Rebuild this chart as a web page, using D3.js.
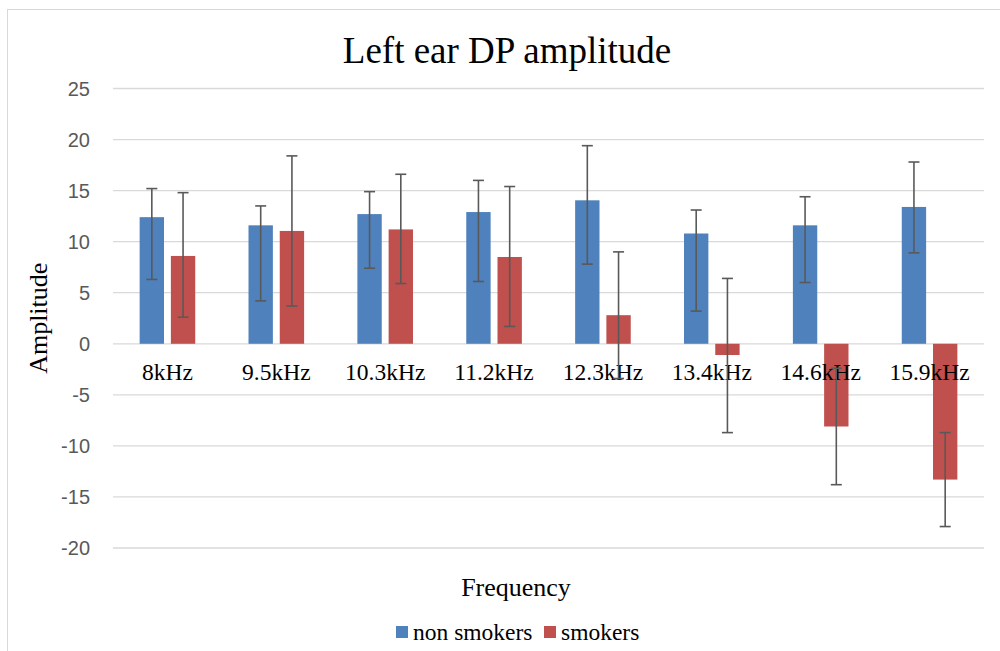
<!DOCTYPE html>
<html>
<head>
    <title>Left ear DP amplitude</title>
    <script src="https://d3js.org/d3.v7.min.js"></script>
    <style type="text/css">
        body { margin: 0; background: #fff; }
        svg text { font-family: "Liberation Serif", "Times New Roman", serif; fill: #000; }
        .ytick text { font-family: "Liberation Sans", Arial, sans-serif; fill: #595959; }
    </style>
</head>
<body>
<div id="chart"></div>
<script type="text/javascript">
    const categories = ["8kHz", "9.5kHz", "10.3kHz", "11.2kHz", "12.3kHz", "13.4kHz", "14.6kHz", "15.9kHz"];
    const seriesNames = ["non smokers", "smokers"];
    const nonSmokers     = [12.4, 11.6, 12.7, 12.9, 14.05, 10.8, 11.6, 13.4];
    const nonSmokersHigh = [15.2, 13.5, 14.9, 16.0, 19.4, 13.1, 14.4, 17.8];
    const nonSmokersLow  = [6.3, 4.2, 7.4, 6.1, 7.8, 3.2, 6.0, 8.9];
    const smokers     = [8.6, 11.05, 11.2, 8.5, 2.8, -1.1, -8.1, -13.3];
    const smokersHigh = [14.8, 18.4, 16.6, 15.4, 9.0, 6.4, -2.4, -8.7];
    const smokersLow  = [2.6, 3.7, 5.9, 1.7, -3.4, -8.7, -13.8, -17.9];
    const yTicks = [-20, -15, -10, -5, 0, 5, 10, 15, 20, 25];
    const colors = ["#4f81bd", "#c0504d"];

    const width = 1000, height = 651;
    const svg = d3.select("#chart").append("svg")
        .attr("width", width)
        .attr("height", height);

    // chart frame
    svg.append("rect")
        .attr("x", 7.5).attr("y", 9.5)
        .attr("width", 1000).attr("height", 700)
        .attr("fill", "none").attr("stroke", "#d9d9d9").attr("stroke-width", 1);

    const x = d3.scaleBand().domain(categories).range([113, 984]);
    const xSub = d3.scaleBand().domain(seriesNames).range([-27.8, 27.8]).paddingInner(0.22);
    const y = d3.scaleLinear().domain([-20, 25]).range([548, 88.5]);

    // gridlines + tick labels
    const yAxis = svg.append("g").attr("class", "ytick");
    yAxis.selectAll("line").data(yTicks).join("line")
        .attr("x1", 113).attr("x2", 984)
        .attr("y1", d => y(d)).attr("y2", d => y(d))
        .attr("stroke", "#d9d9d9").attr("stroke-width", 1.3);
    yAxis.selectAll("text").data(yTicks).join("text")
        .attr("x", 90).attr("y", d => y(d))
        .attr("text-anchor", "end").attr("dominant-baseline", "central")
        .attr("font-size", 20)
        .text(d => d);

    const rows = categories.map((c, i) => [
        { cat: c, s: seriesNames[0], v: nonSmokers[i], hi: nonSmokersHigh[i], lo: nonSmokersLow[i], color: colors[0] },
        { cat: c, s: seriesNames[1], v: smokers[i], hi: smokersHigh[i], lo: smokersLow[i], color: colors[1] }
    ]).flat();

    const cx = d => x(d.cat) + x.bandwidth() / 2 + xSub(d.s);

    svg.append("g").selectAll("rect").data(rows).join("rect")
        .attr("x", d => cx(d))
        .attr("width", xSub.bandwidth())
        .attr("y", d => y(Math.max(0, d.v)))
        .attr("height", d => Math.abs(y(d.v) - y(0)))
        .attr("fill", d => d.color);

    // category labels next to the zero line
    svg.append("g").selectAll("text").data(categories).join("text")
        .attr("x", d => x(d) + x.bandwidth() / 2)
        .attr("y", 380)
        .attr("text-anchor", "middle")
        .attr("font-size", 23.5)
        .text(d => d);

    // error bars
    const err = svg.append("g").attr("stroke", "#595959").attr("stroke-width", 1.6);
    const mid = d => cx(d) + xSub.bandwidth() / 2;
    err.selectAll("line.v").data(rows).join("line").attr("class", "v")
        .attr("x1", mid).attr("x2", mid)
        .attr("y1", d => y(d.hi)).attr("y2", d => y(d.lo));
    err.selectAll("line.hi").data(rows).join("line").attr("class", "hi")
        .attr("x1", d => mid(d) - 5.5).attr("x2", d => mid(d) + 5.5)
        .attr("y1", d => y(d.hi)).attr("y2", d => y(d.hi));
    err.selectAll("line.lo").data(rows).join("line").attr("class", "lo")
        .attr("x1", d => mid(d) - 5.5).attr("x2", d => mid(d) + 5.5)
        .attr("y1", d => y(d.lo)).attr("y2", d => y(d.lo));

    // titles
    svg.append("text")
        .attr("x", 507).attr("y", 63)
        .attr("text-anchor", "middle")
        .attr("font-size", 37)
        .text("Left ear DP amplitude");

    svg.append("text")
        .attr("transform", `translate(47,${(y(25) + y(-20)) / 2}) rotate(-90)`)
        .attr("text-anchor", "middle")
        .attr("font-size", 26)
        .text("Amplitude");

    svg.append("text")
        .attr("x", 516).attr("y", 596)
        .attr("text-anchor", "middle")
        .attr("font-size", 26)
        .text("Frequency");

    // legend
    const legend = svg.append("g");
    const legendX = [396, 544];
    seriesNames.forEach((s, i) => {
        legend.append("rect")
            .attr("x", legendX[i]).attr("y", 626)
            .attr("width", 12).attr("height", 12)
            .attr("fill", colors[i]);
        legend.append("text")
            .attr("x", legendX[i] + 17).attr("y", 640)
            .attr("font-size", 23.5)
            .text(s);
    });
</script>
</body>
</html>
